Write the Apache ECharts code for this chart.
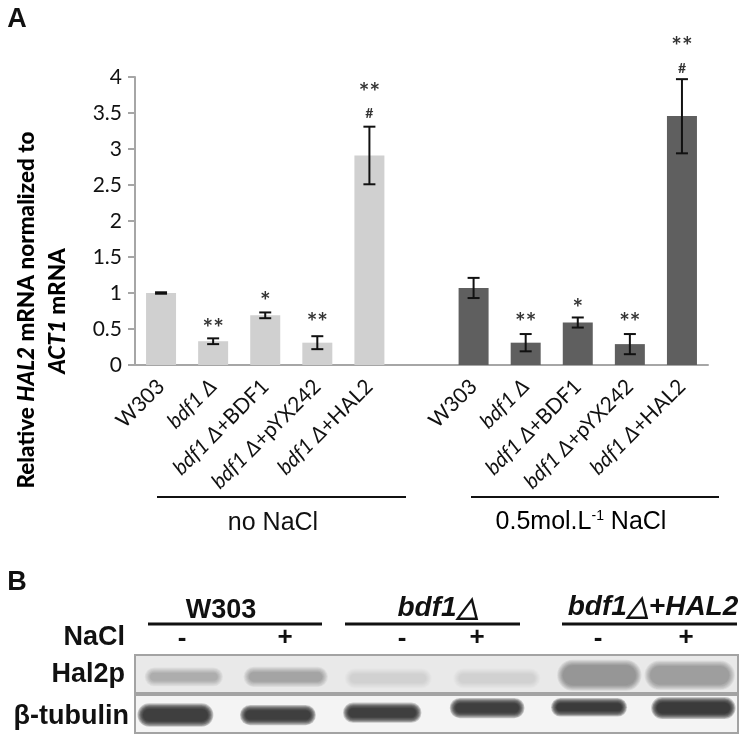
<!DOCTYPE html>
<html>
<head>
<meta charset="utf-8">
<style>
  html, body { margin: 0; padding: 0; background: #fff; }
  #chart { width: 747px; height: 741px; }
</style>
<script src="https://cdn.jsdelivr.net/npm/echarts@6/dist/echarts.min.js"></script>
</head>
<body>
<div id="chart"></div>
<script>
  var categories = ['W303', 'bdf1 Δ', 'bdf1 Δ+BDF1', 'bdf1 Δ+pYX242', 'bdf1 Δ+HAL2', '',
    'W303', 'bdf1 Δ', 'bdf1 Δ+BDF1', 'bdf1 Δ+pYX242', 'bdf1 Δ+HAL2']

  // bars, null = slot belongs to the other group
  var noNaCl = [1.0, 0.33, 0.69, 0.31, 2.91, null, null, null, null, null, null]
  var withNaCl = [null, null, null, null, null, null, 1.07, 0.31, 0.59, 0.29, 3.46]

  // error bars, low and high end
  var errLow = [0.99, 0.29, 0.65, 0.22, 2.51, null, 0.93, 0.19, 0.52, 0.15, 2.94]
  var errHigh = [1.01, 0.37, 0.73, 0.40, 3.31, null, 1.21, 0.43, 0.66, 0.43, 3.97]

  // significance marks: text and the height it sits at
  var starText = ['', '**', '*', '**', '**', '', '', '**', '*', '**', '**']
  var starY = [0, 0.5, 0.88, 0.58, 3.78, 0, 0, 0.58, 0.78, 0.58, 4.42]
  var hashText = ['', '', '', '', '#', '', '', '', '', '', '#']
  var hashY = [0, 0, 0, 0, 3.49, 0, 0, 0, 0, 0, 4.12]

  var halCentre = [8.1, 25, 42, 60, 77, 92]
  var halRow = [28, 28, 30, 30, 26, 26]
  var halWidth = [13, 14, 14.5, 14.5, 14, 15]
  var halHeight = [24, 26, 26, 26, 40, 38]
  var halSignal = [0.27, 0.34, 0.09, 0.09, 0.4, 0.36]

  var tubCentre = [6.7, 23.7, 41, 58.4, 75.3, 92.6]
  var tubRow = [77, 77, 74, 68, 67, 68]
  var tubWidth = [12.6, 12.6, 13, 12.4, 12.6, 14]
  var tubHeight = [30, 26, 26, 26, 24, 28]
  var tubSignal = [0.84, 0.84, 0.84, 0.84, 0.86, 0.86]

  var chart = echarts.init(document.getElementById('chart'))

  var bodyFont = 'Lato'
  var blotFont = '"Liberation Sans"'

  function catLabel(value) {
    if (value.indexOf('bdf1 Δ') !== 0) return value
    var rest = value.slice(6)
    return rest ? '{i|bdf1 Δ}{n|' + rest + '}' : '{i|bdf1 Δ}'
  }

  function rows(a, b, c, d, e) {
    return a.map(function (v, i) { return [v, b[i], c[i], d[i], e[i]] })
  }

  // one soft band on the blot, stacked see-through pills that shrink towards the core
  function renderBand(params, api) {
    var c = api.coord([api.value(0), api.value(1)])
    var size = api.size([api.value(2), api.value(3)])
    var s = api.value(4)
    var steps = 8
    var alpha = 1 - Math.pow(1 - s, 1 / steps)
    var children = []
    for (var k = 0; k < steps; k++) {
      var w = size[0] - k * 1.6
      var h = Math.max(size[1] - k * 1.6, 2)
      children.push({
        type: 'rect',
        shape: { x: c[0] - w / 2, y: c[1] - h / 2, width: w, height: h, r: h / 2 },
        style: { fill: 'rgba(30,30,30,' + alpha + ')' }
      })
    }
    return { type: 'group', children: children }
  }

  function renderErr(params, api) {
    if (isNaN(api.value(1))) return
    var low = api.coord([api.value(0), api.value(1)])
    var high = api.coord([api.value(0), api.value(2)])
    var cap = 6
    var st = { stroke: '#111', lineWidth: 2, fill: 'none' }
    return {
      type: 'group',
      children: [
        { type: 'line', shape: { x1: low[0], y1: low[1], x2: high[0], y2: high[1] }, style: st },
        { type: 'line', shape: { x1: low[0] - cap, y1: low[1], x2: low[0] + cap, y2: low[1] }, style: st },
        { type: 'line', shape: { x1: high[0] - cap, y1: high[1], x2: high[0] + cap, y2: high[1] }, style: st }
      ]
    }
  }

  function marks(text, ys, size, font) {
    return {
      type: 'scatter',
      clip: false,
      silent: true,
      symbolSize: 0,
      z: 6,
      data: text.map(function (t, i) {
        return t ? { value: [i, ys[i]], label: { formatter: t } } : null
      }).filter(Boolean),
      label: { show: true, position: 'inside', color: '#000', fontSize: size, fontFamily: font, fontWeight: 'bold' }
    }
  }

  function txt(x, y, text, size, opt) {
    return {
      type: 'text',
      x: x,
      y: y,
      z: 20,
      rotation: (opt && opt.rotation) || 0,
      style: Object.assign({
        text: text,
        fill: '#111',
        fontSize: size,
        fontWeight: 'bold',
        fontFamily: blotFont,
        align: 'center',
        verticalAlign: 'middle'
      }, opt && opt.style)
    }
  }

  function rule(x1, x2, y, width) {
    return {
      type: 'line',
      z: 20,
      shape: { x1: x1, y1: y, x2: x2, y2: y },
      style: { stroke: '#111', lineWidth: width }
    }
  }

  var sideRich = {
    b: { fontSize: 22.5, fontWeight: 900, fontFamily: bodyFont, color: '#111' },
    bi: { fontSize: 22.5, fontWeight: 900, fontStyle: 'italic', fontFamily: bodyFont, color: '#111' }
  }

  chart.setOption({
    animation: false,
    backgroundColor: '#fff',
    grid: [
      { left: 135, top: 77, width: 573, height: 288 },
      { left: 135, top: 655, width: 603, height: 78 }
    ],
    xAxis: [
      {
        type: 'category',
        gridIndex: 0,
        data: categories,
        axisTick: { show: false },
        axisLine: { lineStyle: { color: '#a6a6a6', width: 2 } },
        axisLabel: {
          interval: 0,
          rotate: 45,
          margin: 18,
          formatter: catLabel,
          rich: {
            i: { fontSize: 21, fontStyle: 'italic', fontFamily: bodyFont, color: '#111' },
            n: { fontSize: 21, fontFamily: bodyFont, color: '#111' }
          },
          fontSize: 21,
          fontFamily: bodyFont,
          color: '#111'
        }
      },
      { type: 'value', gridIndex: 1, min: 0, max: 100, show: false }
    ],
    yAxis: [
      {
        type: 'value',
        gridIndex: 0,
        min: 0,
        max: 4,
        interval: 0.5,
        splitLine: { show: false },
        axisLine: { show: true, lineStyle: { color: '#a6a6a6', width: 2 } },
        axisTick: { show: true, length: 7, lineStyle: { color: '#a6a6a6', width: 2 } },
        axisLabel: { fontSize: 21, fontFamily: bodyFont, color: '#111', margin: 13 }
      },
      { type: 'value', gridIndex: 1, min: 0, max: 100, inverse: true, show: false }
    ],
    series: [
      { type: 'bar', data: noNaCl, barWidth: 30, barGap: '-100%', itemStyle: { color: '#d0d0d0' } },
      { type: 'bar', data: withNaCl, barWidth: 30, barGap: '-100%', itemStyle: { color: '#5f5f5f' } },
      {
        type: 'custom',
        renderItem: renderErr,
        clip: false,
        z: 5,
        encode: { x: 0, y: [1, 2] },
        data: categories.map(function (c, i) { return [i, errLow[i], errHigh[i]] })
      },
      marks(starText, starY, 25, bodyFont),
      marks(hashText, hashY, 14, bodyFont),
      {
        type: 'custom',
        xAxisIndex: 1,
        yAxisIndex: 1,
        renderItem: renderBand,
        clip: true,
        silent: true,
        z: 4,
        data: rows(halCentre, halRow, halWidth, halHeight, halSignal)
      },
      {
        type: 'custom',
        xAxisIndex: 1,
        yAxisIndex: 1,
        renderItem: renderBand,
        clip: true,
        silent: true,
        z: 4,
        data: rows(tubCentre, tubRow, tubWidth, tubHeight, tubSignal)
      }
    ],
    graphic: [
      txt(17, 20, 'A', 27),
      txt(17, 583, 'B', 27),

      // y axis title
      {
        type: 'text', x: 27, y: 310, rotation: Math.PI / 2, z: 20,
        style: {
          text: '{b|Relative }{bi|HAL2}{b| mRNA normalized to}',
          rich: sideRich, align: 'center', verticalAlign: 'middle'
        }
      },
      {
        type: 'text', x: 58, y: 311, rotation: Math.PI / 2, z: 20,
        style: {
          text: '{bi|ACT1}{b| mRNA}',
          rich: sideRich, align: 'center', verticalAlign: 'middle'
        }
      },

      // group brackets
      rule(157, 406, 497, 2),
      rule(471, 719, 497, 2),
      txt(273, 523, 'no NaCl', 25, { style: { fontWeight: 'normal' } }),
      {
        type: 'text', x: 581, y: 522, z: 20,
        style: {
          text: '{n|0.5mol.L}{s|-1}{n| NaCl}',
          align: 'center',
          verticalAlign: 'middle',
          rich: {
            n: { fontSize: 25, fontFamily: blotFont, color: '#111' },
            s: { fontSize: 14, fontFamily: blotFont, color: '#111', verticalAlign: 'top', padding: [0, 0, 10, 0] }
          }
        }
      },

      // blot panels
      {
        type: 'rect', z: 1, silent: true,
        shape: { x: 135, y: 655, width: 603, height: 38 },
        style: { fill: '#e9e9e9' }
      },
      {
        type: 'rect', z: 1, silent: true,
        shape: { x: 135, y: 695, width: 603, height: 38 },
        style: { fill: '#f4f4f4' }
      },
      {
        type: 'rect', z: 10, silent: true,
        shape: { x: 135, y: 655, width: 603, height: 38 },
        style: { fill: 'none', stroke: '#a3a3a3', lineWidth: 2 }
      },
      {
        type: 'rect', z: 10, silent: true,
        shape: { x: 135, y: 695, width: 603, height: 38 },
        style: { fill: 'none', stroke: '#a3a3a3', lineWidth: 2 }
      },

      // blot headers
      txt(221, 611, 'W303', 27),
      txt(438, 608, 'bdf1△', 28, { style: { fontStyle: 'italic' } }),
      txt(653, 607, 'bdf1△+HAL2', 28, { style: { fontStyle: 'italic' } }),
      rule(148, 322, 624, 3),
      rule(345, 520, 624, 3),
      rule(562, 737, 624, 3),
      txt(125, 638, 'NaCl', 27, { style: { align: 'right' } }),
      txt(182, 639, '-', 26),
      txt(285, 638, '+', 26),
      txt(402, 639, '-', 26),
      txt(477, 638, '+', 26),
      txt(598, 639, '-', 26),
      txt(686, 638, '+', 26),
      txt(125, 675, 'Hal2p', 27, { style: { align: 'right' } }),
      txt(129, 717, 'β-tubulin', 27, { style: { align: 'right' } })
    ]
  })
</script>
</body>
</html>
